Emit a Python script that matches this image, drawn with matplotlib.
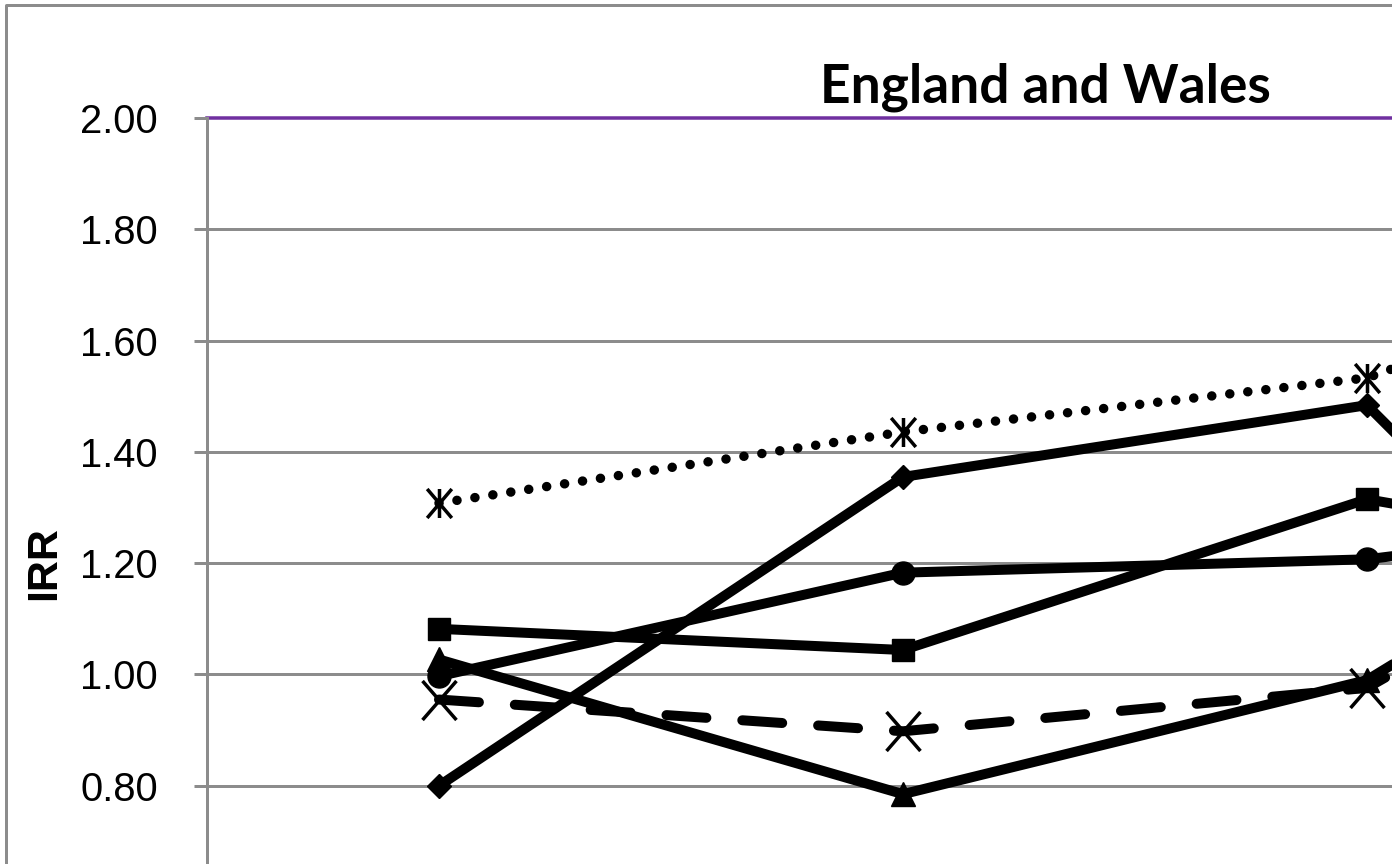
import numpy as np
import matplotlib
matplotlib.use("Agg")
import matplotlib.pyplot as plt
from matplotlib.path import Path
from matplotlib.lines import Line2D

# Category positions (four periods, labels sit below the visible frame)
period_index = [0, 1, 2, 3]

# Incidence rate ratios per series
irr_asterisk = [1.308, 1.436, 1.533, 1.83]
irr_diamond = [0.80, 1.355, 1.484, 0.65]
irr_square = [1.082, 1.044, 1.315, 1.17]
irr_circle = [0.997, 1.183, 1.207, 1.31]
irr_triangle = [1.027, 0.785, 0.99, 1.50]
irr_cross = [0.955, 0.898, 0.976, 1.45]

y_ticks = [0.80, 1.00, 1.20, 1.40, 1.60, 1.80, 2.00]

W, H = 1392, 864
fig = plt.figure(figsize=(W / 100, H / 100), dpi=100)

def px(v):
    return v * 72 / 100.0

# plot area: y 0.6..2.0, x 0..4 (categories centred at i+0.5)
left_px, top_px = 207, 118
unit_y = 556.5
unit_x = 464.0
bottom_px = top_px + 1.4 * unit_y
ax = fig.add_axes([left_px / W, (H - bottom_px) / H,
                   4 * unit_x / W, (bottom_px - top_px) / H])
ax.set_xlim(0, 4)
ax.set_ylim(0.6, 2.0)

grid_col = "#8c8c8c"
for sp in ["top", "right", "bottom"]:
    ax.spines[sp].set_visible(False)
ax.spines["left"].set_color(grid_col)
ax.spines["left"].set_linewidth(px(3))
ax.set_xticks([])
ax.set_yticks(y_ticks)
ax.set_yticklabels([f"{v:.2f}" for v in y_ticks],
                   fontfamily="Liberation Sans", fontsize=px(40))
ax.tick_params(axis="y", length=px(13), width=px(3), color=grid_col,
               pad=px(36))
for v in y_ticks[:-1]:
    ax.axhline(v, color=grid_col, lw=px(3), zorder=1)
ax.axhline(2.0, color="#7030a0", lw=px(3.5), zorder=1, clip_on=False)

# custom markers: asterisk (X plus vertical stroke) and tall cross
asterisk = Path([(0, -1), (0, 1), (-0.85, -1), (0.85, 1), (-0.85, 1), (0.85, -1)],
                [Path.MOVETO, Path.LINETO, Path.MOVETO, Path.LINETO,
                 Path.MOVETO, Path.LINETO])
cross = Path([(-0.87, -1), (0.87, 1), (-0.87, 1), (0.87, -1)],
             [Path.MOVETO, Path.LINETO, Path.MOVETO, Path.LINETO])

xs = np.array(period_index) + 0.5
lw = px(10)

ax.plot(xs, irr_cross, color="black", lw=lw, dashes=(4, 3.6),
        dash_capstyle="round", marker=cross, ms=px(39), mew=px(3.5),
        mec="black", zorder=3)
ax.plot(xs, irr_triangle, color="black", lw=lw, marker="^", ms=px(24),
        solid_capstyle="round", zorder=4)
ax.plot(xs, irr_circle, color="black", lw=lw, marker="o", ms=px(23),
        zorder=4)
ax.plot(xs, irr_square, color="black", lw=lw, marker="s", ms=px(23),
        zorder=5)
ax.plot(xs, irr_diamond, color="black", lw=lw, marker="D", ms=px(17),
        zorder=4)
ax.plot(xs, irr_asterisk, color="black", lw=px(9.5), dashes=(0.01, 1.9),
        dash_capstyle="round", marker=asterisk, ms=px(29), mew=px(3.5),
        mec="black", zorder=3)

# y-axis title
fig.text(44 / W, 1 - 563 / H, "IRR", rotation=90, ha="center", va="center",
         fontfamily="Liberation Sans", fontweight="bold", fontsize=px(43))

# chart title, sized to its span
title = fig.text(1045 / W, 1 - 103 / H, "England and Wales", ha="center",
                 va="baseline", fontfamily="Lato", fontweight="bold",
                 fontsize=px(56))
fig.canvas.draw()
bb = title.get_window_extent()
title.set_fontsize(title.get_fontsize() * 450.0 / bb.width)

# outer chart frame (left and top edges visible)
fig.add_artist(Line2D([6 / W, 6 / W, 1.0], [0.0, 1 - 5 / H, 1 - 5 / H],
                      transform=fig.transFigure, color=grid_col, lw=px(3)))

fig.savefig("out.png", dpi=100)
